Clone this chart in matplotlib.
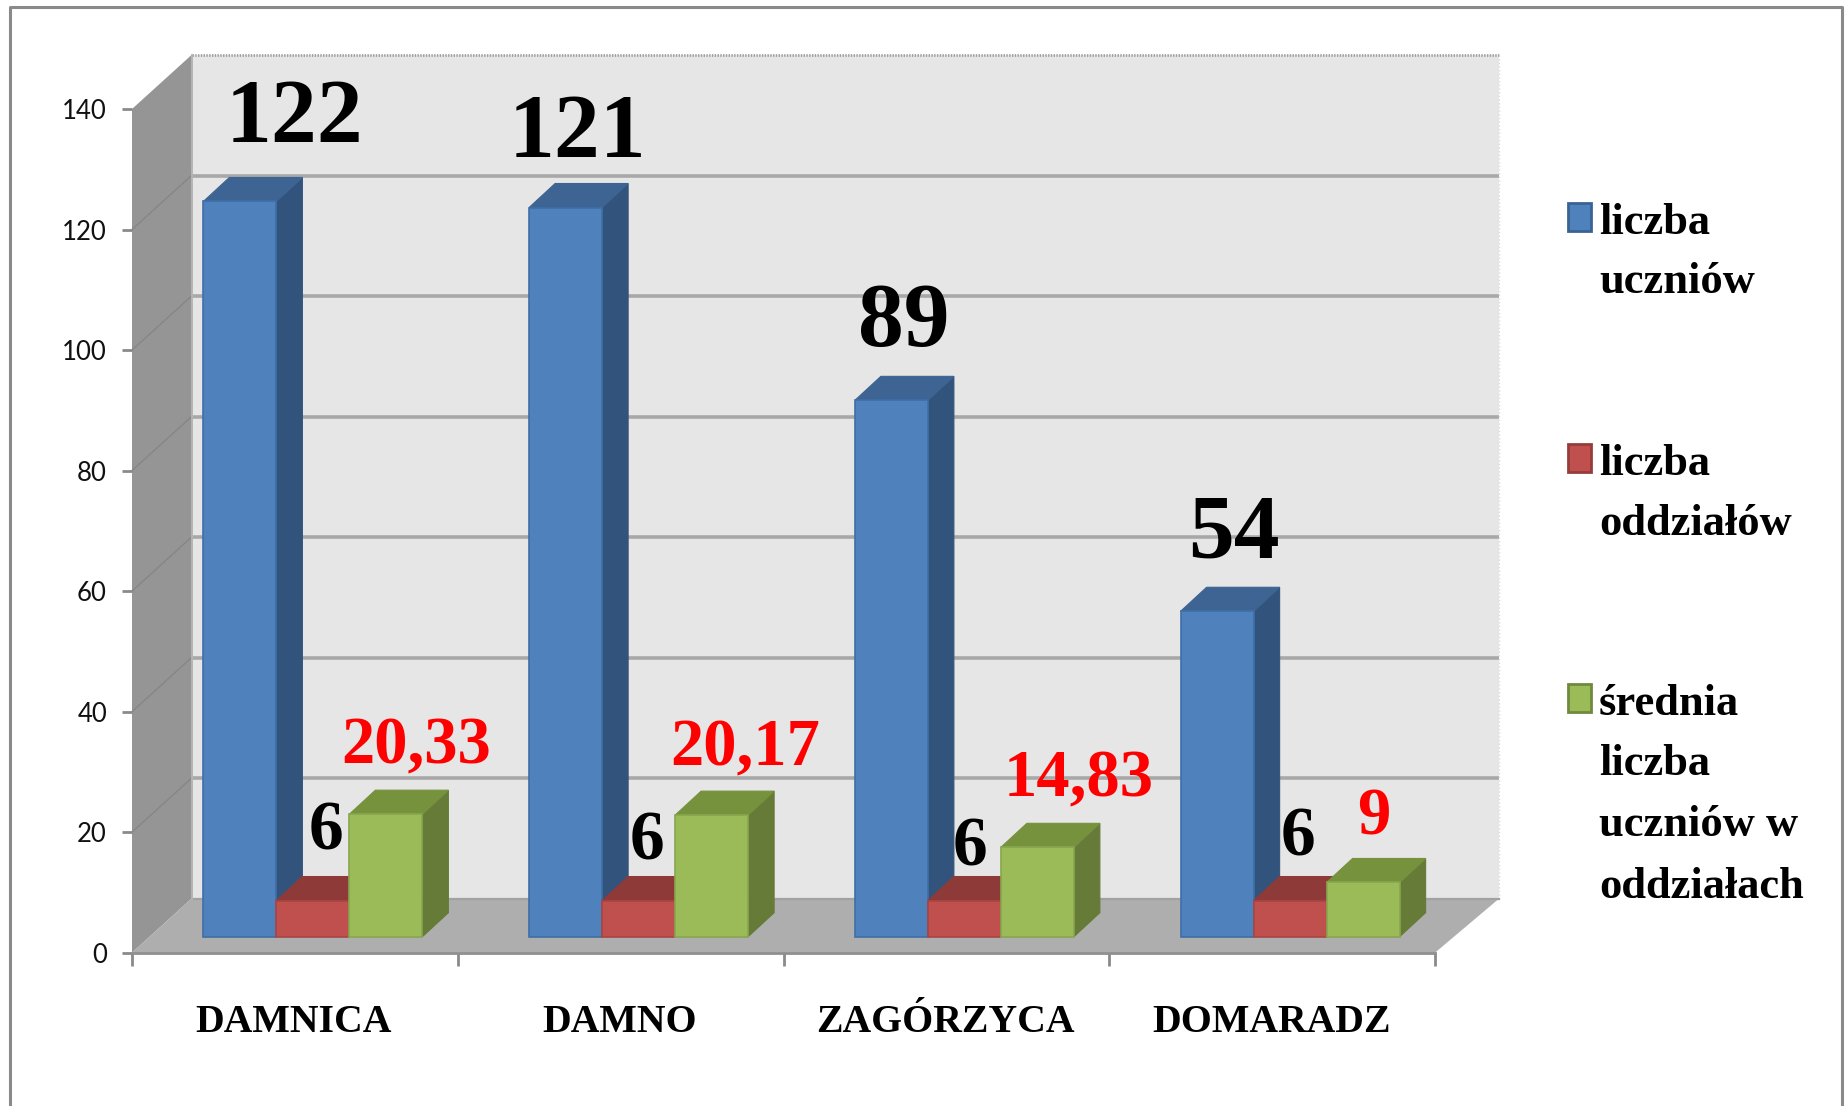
"""Grouped pseudo-3D bar chart: pupils and classes per school."""
import matplotlib

matplotlib.use("Agg")
import matplotlib.pyplot as plt
import numpy as np
from matplotlib.lines import Line2D
from matplotlib.patches import Polygon, Rectangle

schools = ["DAMNICA", "DAMNO", "ZAGÓRZYCA", "DOMARADZ"]
pupils = [122, 121, 89, 54]
classes = [6, 6, 6, 6]
average = [20.33, 20.17, 14.83, 9]
pupil_labels = ["122", "121", "89", "54"]
class_labels = ["6", "6", "6", "6"]
average_labels = ["20,33", "20,17", "14,83", "9"]
y_ticks = [0, 20, 40, 60, 80, 100, 120, 140]

W, H = 1845, 1106
LEFT, RIGHT, BOTTOM, TOP = 132, 1435, 952.7, 109  # front plane, in pixels
X_UNIT = (RIGHT - LEFT) / 4
Y_UNIT = (BOTTOM - TOP) / 140

# depth of the box and of the bars, in data units
WALL_DX, WALL_DY = 59.5 / X_UNIT, 54 / Y_UNIT
BACK_RIGHT = 4 + 64 / X_UNIT
OFF_DX, OFF_DY = 18 / X_UNIT, 16 / Y_UNIT
BAR_DX, BAR_DY = 26 / X_UNIT, 24 / Y_UNIT
BAR_W = 73 / X_UNIT

plt.rcParams["font.family"] = ["Liberation Serif", "DejaVu Serif"]


def px_text(x, y, s, size, color="black", ha="center", **kw):
    """Place a text by its pixel position in the image."""
    fig.text(x / W, 1 - y / H, s, fontsize=size, color=color, ha=ha,
             va="center", fontweight="bold", **kw)


def draw_bar(ax, x, value, front, top, side, edge):
    """One box: a real bar for the front, two polygons for the depth."""
    x0 = x + OFF_DX
    y0 = OFF_DY
    y1 = y0 + value
    ax.add_patch(Polygon(
        [(x0 + BAR_W, y0), (x0 + BAR_W + BAR_DX, y0 + BAR_DY),
         (x0 + BAR_W + BAR_DX, y1 + BAR_DY), (x0 + BAR_W, y1)],
        facecolor=side, edgecolor=side, lw=0.8, zorder=4))
    ax.add_patch(Polygon(
        [(x0, y1), (x0 + BAR_DX, y1 + BAR_DY),
         (x0 + BAR_W + BAR_DX, y1 + BAR_DY), (x0 + BAR_W, y1)],
        facecolor=top, edgecolor=top, lw=0.8, zorder=4))
    ax.bar(x0, value, BAR_W, bottom=y0, align="edge", color=front,
           edgecolor=edge, linewidth=1.2, zorder=4)


fig = plt.figure(figsize=(W / 100, H / 100), dpi=100, facecolor="white")
ax = fig.add_axes([LEFT / W, 1 - BOTTOM / H, (RIGHT - LEFT) / W, (BOTTOM - TOP) / H])
ax.set_xlim(0, 4)
ax.set_ylim(0, 140)
ax.patch.set_visible(False)
for spine in ax.spines.values():
    spine.set_visible(False)

# the box: back wall, left wall, floor
ax.add_patch(Rectangle((WALL_DX, WALL_DY), BACK_RIGHT - WALL_DX, 140, facecolor="#e6e6e6",
                       edgecolor="none", clip_on=False, zorder=1))
ax.add_patch(Polygon([(0, 0), (WALL_DX, WALL_DY), (WALL_DX, 140 + WALL_DY), (0, 140)],
                     facecolor="#959595", edgecolor="none", clip_on=False, zorder=1))
for v in y_ticks[1:-1]:
    ax.plot([WALL_DX, BACK_RIGHT], [v + WALL_DY] * 2, color="#a8a8a8", lw=2.6,
            clip_on=False, zorder=2, solid_capstyle="butt")
    ax.plot([0, WALL_DX], [v, v + WALL_DY], color="#868686", lw=1,
            clip_on=False, zorder=2)
ax.plot([WALL_DX, BACK_RIGHT], [140 + WALL_DY] * 2, color="#a0a0a0", lw=2, ls=(0, (0.5, 0.5)),
        clip_on=False, zorder=2)
ax.plot([BACK_RIGHT] * 2, [WALL_DY, 140 + WALL_DY], color="#dcdcdc", lw=1, ls=":",
        clip_on=False, zorder=2)
ax.add_patch(Polygon([(0, 0), (WALL_DX, WALL_DY), (BACK_RIGHT, WALL_DY), (4, 0)],
                     facecolor="#aeaeae", edgecolor="none", clip_on=False, zorder=3))
ax.plot([WALL_DX, BACK_RIGHT], [WALL_DY] * 2, color="#a2a2a2", lw=1.6, clip_on=False, zorder=3)
ax.plot([WALL_DX] * 2, [WALL_DY, 140 + WALL_DY], color="#b4b4b4", lw=1.4, clip_on=False, zorder=3)

positions = np.arange(len(schools))
for i in positions:
    x = i + 0.5 - 1.5 * BAR_W
    draw_bar(ax, x, pupils[i], "#4f81bd", "#3d6492", "#32547c", "#3f6ea8")
    draw_bar(ax, x + BAR_W, classes[i], "#c0504d", "#8e3a38", "#8e3a38", "#a94543")
    draw_bar(ax, x + 2 * BAR_W, average[i], "#9bbb59", "#76923c", "#667b37", "#88a64c")

ax.set_yticks(y_ticks)
ax.set_xticks(np.arange(len(schools) + 1))
ax.set_xticklabels([])
ax.tick_params(axis="both", color="#8a8a8a", width=2, length=7, pad=11)
ax.tick_params(axis="x", length=9)
ax.set_yticklabels([str(v) for v in y_ticks], fontsize=18.5, family="Lato", color="#111111")
ax.spines["bottom"].set_visible(True)
ax.spines["bottom"].set_color("#8f8f8f")
ax.spines["bottom"].set_linewidth(2)
ax.spines["bottom"].set_zorder(5)

# school names and data labels, placed where they sit in the image
for x, name in zip([293, 620, 945, 1272], schools):
    px_text(x, 1022, name, 28.6)
for x, y, s in zip([294, 577, 904, 1234], [120, 135, 324, 536], pupil_labels):
    px_text(x, y, s, 66)
for x, y, s in zip([326, 647, 970, 1298], [832, 843, 848, 838], class_labels):
    px_text(x, y, s, 50)
for x, y, s in zip([416, 745, 1079, 1374], [747, 749, 780, 818], average_labels):
    px_text(x, y, s, 48, color="#ff0000")

# legend
legend_rows = [
    ("#4f81bd", "#3a6394", 203, [("liczba", 223), ("uczniów", 282)]),
    ("#c0504d", "#963c3a", 444, [("liczba", 464), ("oddziałów", 524)]),
    ("#9bbb59", "#6f8a3c", 684, [("średnia", 704), ("liczba", 764), ("uczniów w", 825), ("oddziałach", 887)]),
]
for face, edge, box_y, lines in legend_rows:
    fig.add_artist(Rectangle((1568 / W, 1 - (box_y + 28) / H), 23 / W, 28 / H, facecolor=face,
                             edgecolor=edge, linewidth=2, transform=fig.transFigure))
    for text, y in lines:
        px_text(1599, y, text, 32, ha="left")

# outer frame, runs off the bottom of the image
frame_x = [10 / W, 10 / W, 1842 / W, 1842 / W]
frame_y = [0, 1 - 7 / H, 1 - 7 / H, 0]
fig.add_artist(Line2D(frame_x, frame_y, color="#8a8a8a", lw=2.2, transform=fig.transFigure))

fig.savefig("out.png", dpi=100)
